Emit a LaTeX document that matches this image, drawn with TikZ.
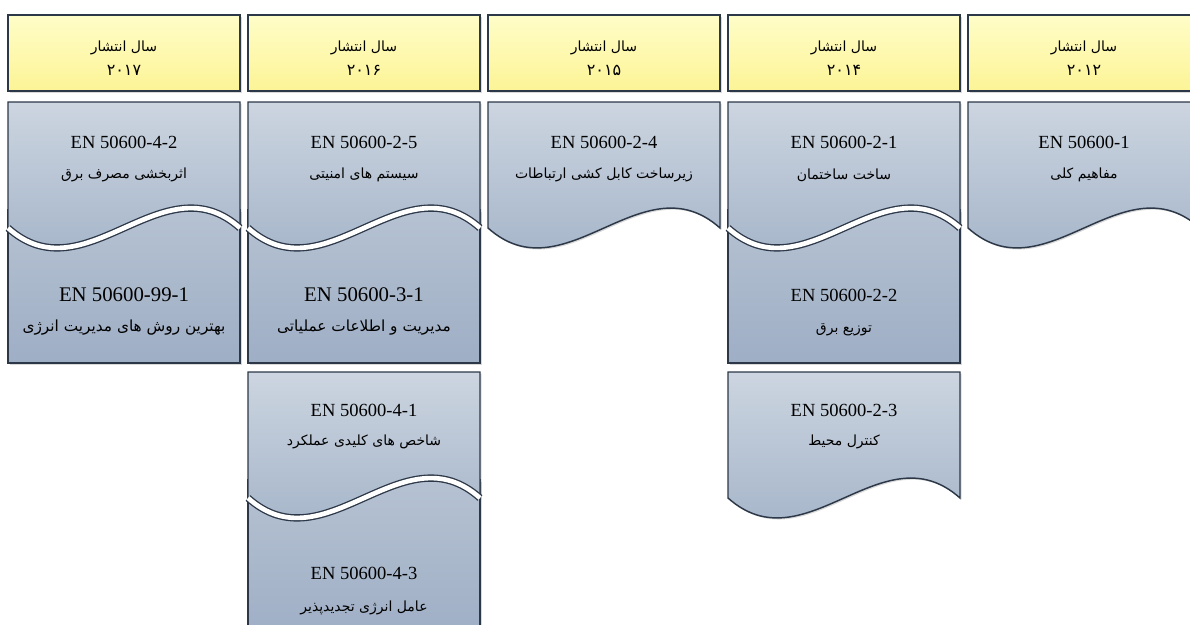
\documentclass[tikz,border=0pt]{standalone}
\usepackage{fontspec}
\usetikzlibrary{shadows}
\setmainfont{Liberation Serif}
\newfontfamily\fafont[Script=Arabic]{DejaVu Sans}
\TeXXeTstate=1
\newcommand{\fa}[1]{{\fafont\beginR #1\endR}}

\definecolor{edge}{RGB}{44,56,72}
\definecolor{hdrtop}{RGB}{255,253,200}
\definecolor{hdrbot}{RGB}{252,244,150}
\definecolor{doctop}{RGB}{204,213,224}
\definecolor{docbot}{RGB}{156,173,196}
\definecolor{undertop}{RGB}{182,194,210}
\definecolor{underbot}{RGB}{158,174,197}

% wavy sheet: left x, top y
\newcommand{\wavedoc}[2]{%
  \path[sheet] (#1,#2) -- ({#1+232},#2) -- ({#1+232},{#2+126})
    .. controls ({#1+154.7},{#2+57}) and ({#1+77.3},{#2+195}) .. (#1,{#2+126}) -- cycle;}
% white cut along the wave between two sheets
\newcommand{\wavecut}[2]{%
  \draw[cut] ({#1+232},{#2+126})
    .. controls ({#1+154.7},{#2+57}) and ({#1+77.3},{#2+195}) .. (#1,{#2+126});}
% plain sheet tucked under a wavy one: left x, top y, bottom y
\newcommand{\flatdoc}[3]{%
  \path[under] (#1,#2) rectangle ({#1+232},#3);}

\begin{document}
\begin{tikzpicture}[x=0.75pt,y=-0.75pt,
  soft/.style={drop shadow={shadow xshift=1.2pt,shadow yshift=-1.2pt,opacity=0.3}},
  year/.style={draw=edge,line width=1.1pt,top color=hdrtop,bottom color=hdrbot,
    minimum width=174pt,minimum height=57pt,soft},
  yeartxt/.style={align=center,font=\fontsize{10.5}{18.5}\selectfont},
  sheet/.style={draw=edge,line width=1.1pt,top color=doctop,bottom color=docbot,soft},
  under/.style={draw=edge,line width=1.1pt,top color=undertop,bottom color=underbot,soft},
  cut/.style={draw=edge,line width=1pt,double=white,double distance=3.5pt},
  code/.style={font=\fontsize{13.9}{16}\selectfont},
  bigcode/.style={font=\fontsize{15.6}{18}\selectfont},
  title/.style={font=\fontsize{10.5}{12}\selectfont},
  bigtitle/.style={font=\fontsize{11.5}{13}\selectfont}]
\useasboundingbox (0,0) rectangle (1190,625);
\clip (0,0) rectangle (1190,625);

% year headers
\node[year] (h2017) at (124,53) {};
\node[year] (h2016) at (364,53) {};
\node[year] (h2015) at (604,53) {};
\node[year] (h2014) at (844,53) {};
\node[year] (h2012) at (1084,53) {};
\node[yeartxt] (y2017) at (h2017) [yshift=-4pt] {\fa{سال انتشار}\\\fa{\large ۲۰۱۷}};
\node[yeartxt] (y2016) at (h2016) [yshift=-4pt] {\fa{سال انتشار}\\\fa{\large ۲۰۱۶}};
\node[yeartxt] (y2015) at (h2015) [yshift=-4pt] {\fa{سال انتشار}\\\fa{\large ۲۰۱۵}};
\node[yeartxt] (y2014) at (h2014) [yshift=-4pt] {\fa{سال انتشار}\\\fa{\large ۲۰۱۴}};
\node[yeartxt] (y2012) at (h2012) [yshift=-4pt] {\fa{سال انتشار}\\\fa{\large ۲۰۱۲}};

% 2017
\flatdoc{8}{210}{363}
\wavedoc{8}{102}
\wavecut{8}{102}
\node[code] (c42) at (124,142) {EN 50600-4-2};
\node[title] (t42) at (124,175) {\fa{اثربخشی مصرف برق}};
\node[bigcode] (c991) at (124,295) {EN 50600-99-1};
\node[bigtitle] (t991) at (124,328) {\fa{بهترین روش های مدیریت انرژی}};

% 2016
\flatdoc{248}{210}{363}
\wavedoc{248}{102}
\wavecut{248}{102}
\flatdoc{248}{480}{640}
\wavedoc{248}{372}
\wavecut{248}{372}
\node[code] (c25) at (364,142) {EN 50600-2-5};
\node[title] (t25) at (364,175) {\fa{سیستم های امنیتی}};
\node[bigcode] (c31) at (364,295) {EN 50600-3-1};
\node[bigtitle] (t31) at (364,328) {\fa{مدیریت و اطلاعات عملیاتی}};
\node[code] (c41) at (364,410) {EN 50600-4-1};
\node[title] (t41) at (364,442) {\fa{شاخص های کلیدی عملکرد}};
\node[code] (c43) at (364,573) {EN 50600-4-3};
\node[title] (t43) at (364,608) {\fa{عامل انرژی تجدیدپذیر}};

% 2015
\wavedoc{488}{102}
\node[code] (c24) at (604,142) {EN 50600-2-4};
\node[title] (t24) at (604,175) {\fa{زیرساخت کابل کشی ارتباطات}};

% 2014
\flatdoc{728}{210}{363}
\wavedoc{728}{102}
\wavecut{728}{102}
\wavedoc{728}{372}
\node[code] (c21) at (844,142) {EN 50600-2-1};
\node[title] (t21) at (844,175) {\fa{ساخت ساختمان}};
\node[code] (c22) at (844,295) {EN 50600-2-2};
\node[title] (t22) at (844,330) {\fa{توزیع برق}};
\node[code] (c23) at (844,410) {EN 50600-2-3};
\node[title] (t23) at (844,442) {\fa{کنترل محیط}};

% 2012
\wavedoc{968}{102}
\node[code] (c1) at (1084,142) {EN 50600-1};
\node[title] (t1) at (1084,175) {\fa{مفاهیم کلی}};
\end{tikzpicture}
\end{document}
